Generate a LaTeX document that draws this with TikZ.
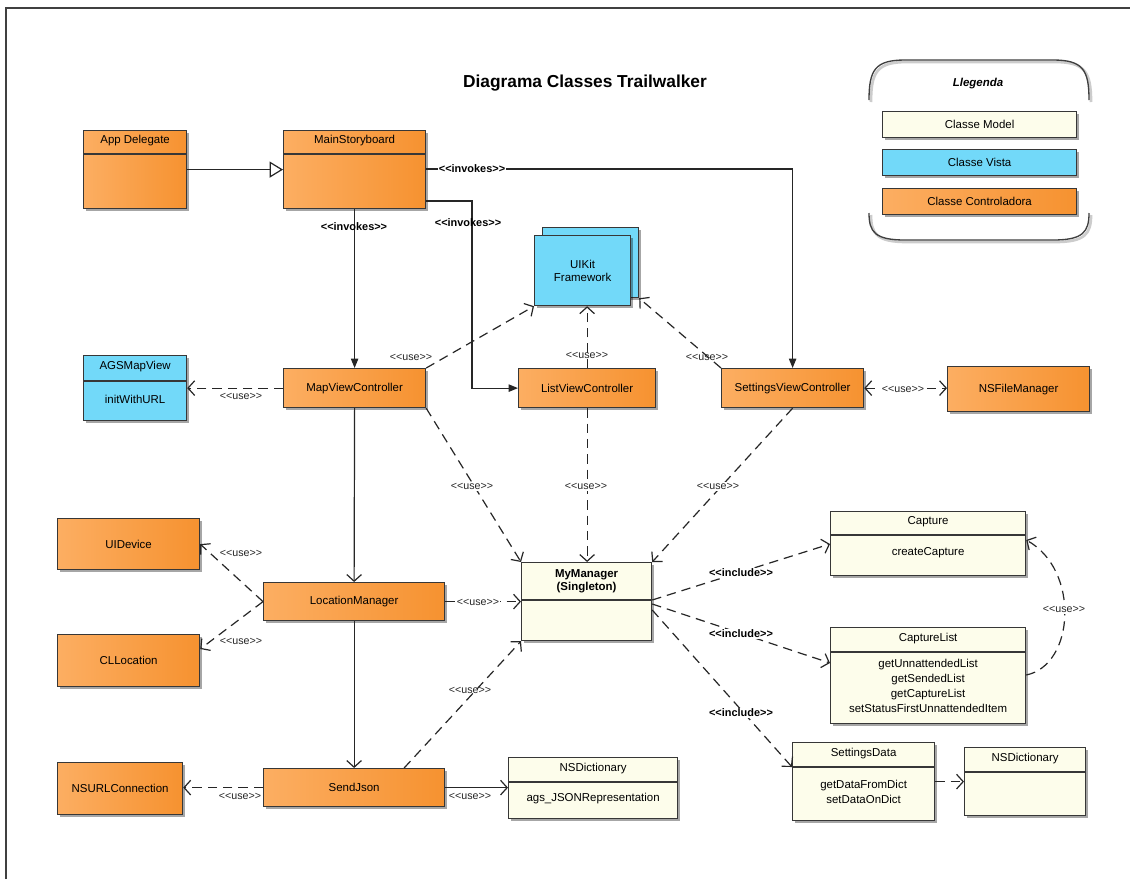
\documentclass[tikz,border=0pt]{standalone}
\usepackage{fontspec}
\setmainfont{Liberation Sans}
\usetikzlibrary{arrows.meta,calc,shadows}
\definecolor{ctrlL}{RGB}{252,174,98}
\definecolor{ctrlR}{RGB}{246,146,48}
\definecolor{vistaC}{RGB}{114,217,249}
\definecolor{modelC}{RGB}{253,253,235}
\definecolor{edgeC}{RGB}{55,55,55}
\newcommand\stt[1]{<\kern0pt<\kern0pt#1\kern0pt>\kern0pt>}
\begin{document}
\begin{tikzpicture}[x=0.75pt,y=-0.75pt,
  font=\fontsize{8.6}{10}\selectfont,
  bw/.style={minimum width=#1*0.75pt},
  bh/.style={minimum height=#1*0.75pt},
  basebox/.style={draw=edgeC, line width=0.9pt, inner sep=0pt, anchor=north west,
    drop shadow={shadow xshift=1.5pt, shadow yshift=-1.5pt, opacity=0.35, fill=black}},
  ctrl/.style={basebox, left color=ctrlL, right color=ctrlR},
  vista/.style={basebox, fill=vistaC},
  model/.style={basebox, fill=modelC},
  div/.style={draw=edgeC, line width=0.9pt},
  txt/.style={inner sep=0pt, align=center},
  bold/.style={font=\fontsize{8.6}{10}\selectfont\bfseries},
  usel/.style={font=\fontsize{8}{9}\selectfont, inner sep=1pt, text=black!85},
  usefill/.style={usel, fill=white},
  invl/.style={font=\fontsize{8.2}{9}\selectfont\bfseries, inner sep=1pt},
  dep/.style={draw=black!85, line width=0.9pt, dash pattern=on 7pt off 4.5pt,
    -{Straight Barb[length=5pt,width=11pt,line width=0.9pt]}},
  depboth/.style={dep, {Straight Barb[length=5pt,width=11pt,line width=0.9pt]}-{Straight Barb[length=5pt,width=11pt,line width=0.9pt]}},
  assoc/.style={draw=black!85, line width=0.9pt,
    -{Straight Barb[length=5pt,width=11pt,line width=0.9pt]}},
  inv/.style={draw=black!85, line width=0.9pt, -{Triangle[length=7pt,width=5.5pt]}},
  gen/.style={draw=black!85, line width=0.9pt, -{Triangle[open,length=10pt,width=12pt,fill=white]}}
]
\useasboundingbox (0,0) rectangle (1130,879);
\fill[white] (0,0) rectangle (1130,879);
% frame
\draw[line width=1.1pt, black!75] (6,879) -- (6,8) -- (1130,8);

% title
\node[txt, font=\fontsize{13}{15}\selectfont\bfseries] (title) at (585,83) {Diagrama Classes Trailwalker};

% legend
\draw[line width=2pt, black!20] (871,102) .. controls (871,72) and (877,62) .. (907,62) -- (1055,62) .. controls (1085,62) and (1091,72) .. (1091,102);
\draw[line width=2pt, black!20] (871,215) .. controls (871,234) and (877,242) .. (907,242) -- (1055,242) .. controls (1085,242) and (1091,234) .. (1091,215);
\draw[line width=1pt, black!75] (869,100) .. controls (869,70) and (875,60) .. (905,60) -- (1053,60) .. controls (1083,60) and (1089,70) .. (1089,100);
\draw[line width=1pt, black!75] (869,213) .. controls (869,232) and (875,240) .. (905,240) -- (1053,240) .. controls (1083,240) and (1089,232) .. (1089,213);
\node[txt, font=\fontsize{8.6}{10}\selectfont\bfseries\itshape] (legt) at (978,84) {Llegenda};
\node[model, bw=194, bh=26] (lgm) at (882,111) {Classe Model};
\node[vista, bw=194, bh=26] (lgv) at (882,149) {Classe Vista};
\node[ctrl, bw=194, bh=26] (lgc) at (882,188) {Classe Controladora};

% class boxes
\node[ctrl, bw=103, bh=78] (ad) at (83,130) {};
\node[txt] (adt) at ($(ad.north)+(0,11)$) {App Delegate};
\draw[div] ($(ad.north west)+(0,24)$) -- ($(ad.north east)+(0,24)$);

\node[ctrl, bw=142, bh=78] (ms) at (283,130) {};
\node[txt] (mst) at ($(ms.north)+(0,11)$) {MainStoryboard};
\draw[div] ($(ms.north west)+(0,24)$) -- ($(ms.north east)+(0,24)$);

\node[vista, bw=96, bh=70] (uikb) at (542,227) {};
\node[vista, bw=96, bh=70, align=center] (uik) at (534,235) {UIKit\\Framework};

\node[vista, bw=103, bh=65] (ags) at (83,355) {};
\node[txt] (agst) at ($(ags.north)+(0,12)$) {AGSMapView};
\draw[div] ($(ags.north west)+(0,26)$) -- ($(ags.north east)+(0,26)$);
\node[txt] (agsb) at ($(ags.north)+(0,44)$) {initWithURL};

\node[ctrl, bw=142, bh=39] (mvc) at (283,368) {MapViewController};
\node[ctrl, bw=137, bh=39] (lvc) at (518,368) {ListViewController};
\node[ctrl, bw=142, bh=39] (svc) at (721,368) {SettingsViewController};
\node[ctrl, bw=142, bh=45] (nsf) at (947,366) {NSFileManager};

\node[ctrl, bw=142, bh=51] (uid) at (57,518) {UIDevice};
\node[ctrl, bw=181, bh=38] (lm) at (263,582) {LocationManager};
\node[ctrl, bw=142, bh=52] (clo) at (57,634) {CLLocation};

\node[model, bw=130, bh=78] (mm) at (521,562) {};
\node[txt, bold] (mmt) at ($(mm.north)+(0,19)$) {MyManager\\(Singleton)};
\draw[div] ($(mm.north west)+(0,38)$) -- ($(mm.north east)+(0,38)$);

\node[model, bw=195, bh=64] (cap) at (830,511) {};
\node[txt] (capt) at ($(cap.north)+(0,11)$) {Capture};
\draw[div] ($(cap.north west)+(0,24)$) -- ($(cap.north east)+(0,24)$);
\node[txt] (capb) at ($(cap.north)+(0,42)$) {createCapture};

\node[model, bw=195, bh=96] (cl) at (830,627) {};
\node[txt] (clt) at ($(cl.north)+(0,12)$) {CaptureList};
\draw[div] ($(cl.north west)+(0,25)$) -- ($(cl.north east)+(0,25)$);
\node[txt, font=\fontsize{8.6}{11.2}\selectfont] (clb) at ($(cl.north)+(0,59)$) {getUnnattendedList\\getSendedList\\getCaptureList\\setStatusFirstUnnattendedItem};

\node[ctrl, bw=125, bh=52] (nsu) at (57,762) {NSURLConnection};
\node[ctrl, bw=181, bh=38] (sj) at (263,768) {SendJson};

\node[model, bw=169, bh=61] (nd1) at (508,757) {};
\node[txt] (nd1t) at ($(nd1.north)+(0,12)$) {NSDictionary};
\draw[div] ($(nd1.north west)+(0,25)$) -- ($(nd1.north east)+(0,25)$);
\node[txt] (nd1b) at ($(nd1.north)+(0,42)$) {ags\_JSONRepresentation};

\node[model, bw=142, bh=78] (sd) at (792,742) {};
\node[txt] (sdt) at ($(sd.north)+(0,12)$) {SettingsData};
\draw[div] ($(sd.north west)+(0,25)$) -- ($(sd.north east)+(0,25)$);
\node[txt, font=\fontsize{8.6}{11.2}\selectfont] (sdb) at ($(sd.north)+(0,50)$) {getDataFromDict\\setDataOnDict};

\node[model, bw=121, bh=68] (nd2) at (964,747) {};
\node[txt] (nd2t) at ($(nd2.north)+(0,12)$) {NSDictionary};
\draw[div] ($(nd2.north west)+(0,25)$) -- ($(nd2.north east)+(0,25)$);

% generalisation
\draw[gen] (ad.east) -- (ms.west);

% invokes
\draw[inv] ($(ms.north east)+(0,39)$) -| (svc.north);
\draw[inv] ($(ms.north east)+(0,71)$) -| ($(lvc.west)+(-46,0)$) -- (lvc.west);
\draw[inv] (ms.south) -- (mvc.north);
\node[invl, fill=white] (inv1) at (472,169) {\stt{invokes}};
\node[invl] (inv2) at (468,223) {\stt{invokes}};
\node[invl] (inv3) at (354,227) {\stt{invokes}};

% uses to UIKit
\draw[dep] (mvc.north east) -- (uik.south west);
\draw[dep] (lvc.north) -- (lvc.north |- uik.south);
\draw[dep] (svc.north west) -- (uikb.south east);
\node[usel] (u1) at (411,357) {\stt{use}};
\node[usel] (u2) at (587,355) {\stt{use}};
\node[usel] (u3) at (707,357) {\stt{use}};

% map view
\draw[dep] (mvc.west) -- (mvc.west -| ags.east);
\node[usel] (u4) at (241,396) {\stt{use}};

% settings <-> file manager
\draw[depboth] (svc.east) -- (svc.east -| nsf.west);
\node[usefill] (u5) at (903,389) {\stt{use}};

% uses to MyManager
\draw[dep] (mvc.south east) -- (mm.north west);
\draw[dep] (lvc.south) -- (lvc.south |- mm.north);
\draw[dep] (svc.south) -- (mm.north east);
\node[usefill] (u6) at (472,486) {\stt{use}};
\node[usefill] (u7) at (586,486) {\stt{use}};
\node[usefill] (u8) at (718,486) {\stt{use}};

% map -> location -> sendjson
\draw[assoc] (mvc.south) -- (lm.north);
\draw[assoc] (lm.south) -- (sj.north);

% location manager uses
\draw[dep] (lm.west) -- (uid.east);
\draw[dep] (lm.west) -- ($(clo.north east)+(0,15)$);
\draw[dep] (lm.east) -- (lm.east -| mm.west);
\node[usel] (u9) at (241,553) {\stt{use}};
\node[usel] (u10) at (241,641) {\stt{use}};
\node[usefill] (u11) at (478,602) {\stt{use}};

% sendjson uses
\draw[dep] ($(sj.north)+(50,0)$) -- (mm.south west);
\draw[dep] (sj.west) -- (sj.west -| nsu.east);
\draw[assoc] (sj.east) -- (sj.east -| nd1.west);
\node[usel] (u12) at (470,690) {\stt{use}};
\node[usel] (u13) at (240,796) {\stt{use}};
\node[usel] (u14) at (470,796) {\stt{use}};

% includes
\coordinate (mmx) at ($(mm.north east)+(0,38)$);
\draw[dep] (mmx) -- ($(cap.north west)+(0,33)$);
\draw[dep] ($(mmx)+(0,4)$) -- ($(cl.north west)+(0,36)$);
\draw[dep] ($(mmx)+(0,10)$) -- ($(sd.north west)+(0,25)$);
\node[invl, fill=white] (in1) at (741,573) {\stt{include}};
\node[invl, fill=white] (in2) at (741,634) {\stt{include}};
\node[invl, fill=white] (in3) at (741,713) {\stt{include}};

% capture list uses capture
\draw[dep] ($(cl.north east)+(0,48)$) .. controls (1075,665) and (1080,570) .. ($(cap.north east)+(0,29)$);
\node[usefill] (u15) at (1064,609) {\stt{use}};

% settings data -> dictionary
\draw[dep] (sd.east) -- (sd.east -| nd2.west);
\end{tikzpicture}
\end{document}
